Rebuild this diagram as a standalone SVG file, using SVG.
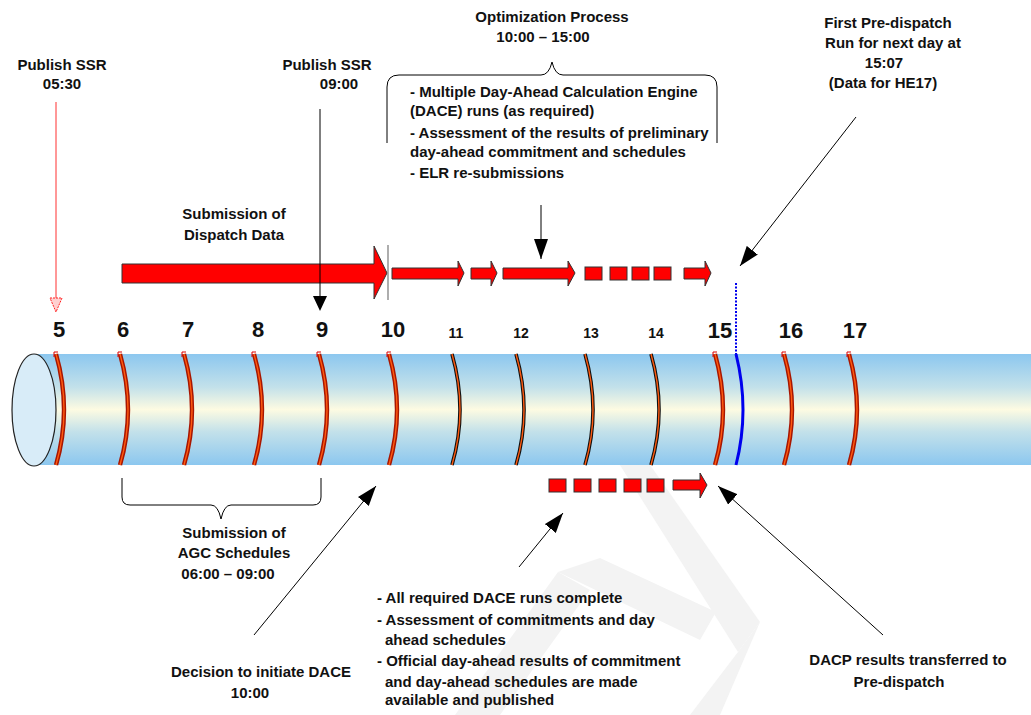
<svg xmlns="http://www.w3.org/2000/svg" width="1031" height="715" viewBox="0 0 1031 715">
<defs>
<linearGradient id="tube" x1="0" y1="0" x2="0" y2="1">
<stop offset="0" stop-color="#8cc7ef"/>
<stop offset="0.3" stop-color="#c3e1ea"/>
<stop offset="0.5" stop-color="#fdfbe2"/>
<stop offset="0.7" stop-color="#c3e1ea"/>
<stop offset="1" stop-color="#8cc7ef"/>
</linearGradient>
<marker id="ah" viewBox="0 0 20 14" refX="20" refY="7" markerWidth="20" markerHeight="14" markerUnits="userSpaceOnUse" orient="auto">
<path d="M0,0 L20,7 L0,14 Z" fill="#000"/>
</marker>
</defs>
<style>
text{font-family:"Liberation Sans",Arial,sans-serif;font-weight:bold;fill:#111;}
.t{font-size:15px;}
.c{text-anchor:middle;}
.big{font-size:22px;text-anchor:middle;}
.sm{font-size:14px;text-anchor:middle;}
.ra{fill:#ff0000;stroke:#333;stroke-width:1;}
.ln{stroke:#000;stroke-width:1;fill:none;}
.ro{fill:none;stroke:#a81600;stroke-width:4.4;}
.ri{fill:none;stroke:#ff5a10;stroke-width:1.4;}
.rb{fill:none;stroke:#111;stroke-width:3.6;}
.tick{fill:none;stroke:#d00;stroke-width:1;}
.wm{fill:#f3f3f3;}
</style>

<g id="watermark">
<polygon class="wm" points="618,462 648,462 760,622 738,652"/>
<polygon class="wm" points="558,572 600,558 716,612 700,640"/>
<polygon class="wm" points="558,572 590,590 500,715 455,715"/>
<polygon class="wm" points="738,652 760,622 720,715 690,715"/>
</g>

<g id="tube-body">
<rect x="34" y="354" width="997" height="111" fill="url(#tube)"/>
<ellipse cx="34" cy="410" rx="22" ry="56" fill="#d8ecf8" stroke="#222" stroke-width="1.2"/>
</g>

<g id="rings">
<g id="ring-5"><path class="ro" d="M56,354 Q72,410 56,465"/><path class="ri" d="M56,354 Q72,410 56,465"/><path class="tick" d="M54,357 L54,352 L58,352"/></g>
<g id="ring-6"><path class="ro" d="M120,354 Q136,410 120,465"/><path class="ri" d="M120,354 Q136,410 120,465"/><path class="tick" d="M118,357 L118,352 L122,352"/></g>
<g id="ring-7"><path class="ro" d="M184,354 Q200,410 184,465"/><path class="ri" d="M184,354 Q200,410 184,465"/><path class="tick" d="M182,357 L182,352 L186,352"/></g>
<g id="ring-8"><path class="ro" d="M254,354 Q270,410 254,465"/><path class="ri" d="M254,354 Q270,410 254,465"/><path class="tick" d="M252,357 L252,352 L256,352"/></g>
<g id="ring-9"><path class="ro" d="M319,354 Q335,410 319,465"/><path class="ri" d="M319,354 Q335,410 319,465"/><path class="tick" d="M317,357 L317,352 L321,352"/></g>
<g id="ring-10"><path class="ro" d="M389,354 Q405,410 389,465"/><path class="ri" d="M389,354 Q405,410 389,465"/><path class="tick" d="M387,357 L387,352 L391,352"/></g>
<g id="ring-11"><path class="rb" d="M452,354 Q468,410 452,465"/><path class="ri" d="M452,354 Q468,410 452,465"/></g>
<g id="ring-12"><path class="rb" d="M516,354 Q532,410 516,465"/><path class="ri" d="M516,354 Q532,410 516,465"/></g>
<g id="ring-13"><path class="rb" d="M585,354 Q601,410 585,465"/><path class="ri" d="M585,354 Q601,410 585,465"/></g>
<g id="ring-14"><path class="rb" d="M651,354 Q667,410 651,465"/><path class="ri" d="M651,354 Q667,410 651,465"/></g>
<g id="ring-15"><path class="ro" d="M715,354 Q731,410 715,465"/><path class="ri" d="M715,354 Q731,410 715,465"/><path class="tick" d="M713,357 L713,352 L717,352"/></g>
<g id="ring-blue"><path d="M736,283 L736,354" stroke="#0000ee" stroke-width="2" stroke-dasharray="2,1.5" fill="none"/><path d="M736,354 Q750,410 736,465" stroke="#0000ee" stroke-width="3" fill="none"/></g>
<g id="ring-16"><path class="ro" d="M784,354 Q800,410 784,465"/><path class="ri" d="M784,354 Q800,410 784,465"/><path class="tick" d="M782,357 L782,352 L786,352"/></g>
<g id="ring-17"><path class="ro" d="M849,354 Q865,410 849,465"/><path class="ri" d="M849,354 Q865,410 849,465"/><path class="tick" d="M847,357 L847,352 L851,352"/></g>
</g>

<g id="hour-labels">
<text class="big" x="59" y="337">5</text>
<text class="big" x="123" y="337">6</text>
<text class="big" x="188" y="337">7</text>
<text class="big" x="258" y="337">8</text>
<text class="big" x="322" y="337">9</text>
<text class="big" x="393" y="337">10</text>
<text class="sm" x="456" y="338">11</text>
<text class="sm" x="521" y="338">12</text>
<text class="sm" x="591" y="338">13</text>
<text class="sm" x="656" y="338">14</text>
<text class="big" x="720" y="338">15</text>
<text class="big" x="791" y="338">16</text>
<text class="big" x="855" y="338">17</text>
</g>

<g id="publish-ssr-0530">
<text class="t c" x="62" y="70">Publish SSR</text>
<text class="t c" x="62" y="89">05:30</text>
</g>

<g id="publish-ssr-0900">
<text class="t c" x="327" y="70">Publish SSR</text>
<text class="t c" x="339" y="89">09:00</text>
</g>

<g id="optimization">
<text class="t c" x="552" y="22">Optimization Process</text>
<text class="t c" x="543" y="42">10:00 – 15:00</text>
<path class="ln" d="M387,143 L387,87 Q387,75 399,75 L541,75 Q549,75 552,62 Q555,75 563,75 L705,75 Q717,75 717,87 L717,143"/>
<text class="t" x="410" y="97">- Multiple Day-Ahead Calculation Engine</text>
<text class="t" x="410" y="116">(DACE) runs (as required)</text>
<text class="t" x="410" y="138">- Assessment of the results of preliminary</text>
<text class="t" x="410" y="157">day-ahead commitment and schedules</text>
<text class="t" x="410" y="178">- ELR re-submissions</text>
</g>

<g id="first-predispatch">
<text class="t c" x="888" y="28">First Pre-dispatch</text>
<text class="t c" x="893" y="48">Run for next day at</text>
<text class="t c" x="884" y="68">15:07</text>
<text class="t c" x="883" y="88">(Data for HE17)</text>
</g>

<g id="dispatch-data">
<text class="t c" x="234" y="219">Submission of</text>
<text class="t c" x="234" y="240">Dispatch Data</text>
<polygon class="ra" points="122,264 374,264 374,246 387,273 374,299 374,283 122,283"/>
<line x1="388" y1="245" x2="388" y2="300" stroke="#777" stroke-width="1.2"/>
</g>

<g id="optimization-arrows">
<polygon class="ra" points="392,268 458,268 458,261 464,273 458,286 458,279 392,279"/>
<polygon class="ra" points="471,268 491,268 491,261 497,273 491,286 491,279 471,279"/>
<polygon class="ra" points="503,268 568,268 568,261 575,273 568,286 568,279 503,279"/>
<rect class="ra" x="585" y="267" width="17" height="13"/>
<rect class="ra" x="610" y="267" width="17" height="13"/>
<rect class="ra" x="632" y="267" width="17" height="13"/>
<rect class="ra" x="654" y="267" width="17" height="13"/>
<polygon class="ra" points="684,268 705,268 705,261 711,273 705,286 705,279 684,279"/>
</g>

<g id="agc-schedules">
<path class="ln" d="M122,478 L122,497 Q122,505 130,505 L211,505 Q218,505 221,519 Q224,505 231,505 L313,505 Q321,505 321,497 L321,478"/>
<text class="t c" x="234" y="538">Submission of</text>
<text class="t c" x="234" y="558">AGC Schedules</text>
<text class="t c" x="228" y="579">06:00 – 09:00</text>
</g>

<g id="decision-dace">
<text class="t c" x="261" y="677">Decision to initiate DACE</text>
<text class="t c" x="250" y="698">10:00</text>
</g>

<g id="dace-complete">
<text class="t" x="377" y="603">- All required DACE runs complete</text>
<text class="t" x="377" y="625">- Assessment of commitments and day</text>
<text class="t" x="385" y="645">ahead schedules</text>
<text class="t" x="377" y="666">- Official day-ahead results of commitment</text>
<text class="t" x="385" y="687">and day-ahead schedules are made</text>
<text class="t" x="385" y="705">available and published</text>
</g>

<g id="results-arrows">
<rect class="ra" x="549" y="479" width="17" height="13"/>
<rect class="ra" x="574" y="479" width="17" height="13"/>
<rect class="ra" x="599" y="479" width="17" height="13"/>
<rect class="ra" x="624" y="479" width="17" height="13"/>
<rect class="ra" x="647" y="479" width="17" height="13"/>
<polygon class="ra" points="673,480 700,480 700,473 707,485 700,498 700,490 673,490"/>
</g>

<g id="dacp-transfer">
<text class="t c" x="908" y="665">DACP results transferred to</text>
<text class="t c" x="899" y="687">Pre-dispatch</text>
</g>

<g id="connectors">
<line x1="56" y1="102" x2="56" y2="298" stroke="#ff3030" stroke-width="1"/>
<polygon points="50,298 62,298 56,312" fill="#ffd0d0" stroke="#ff2020" stroke-width="1" stroke-dasharray="2,1"/>
<line x1="320" y1="109" x2="320" y2="296" stroke="#000" stroke-width="1"/>
<polygon points="313,296 327,296 320,311" fill="#000"/>
<line class="ln" x1="541" y1="205" x2="541" y2="259" marker-end="url(#ah)"/>
<line class="ln" x1="856" y1="117" x2="740" y2="266" marker-end="url(#ah)"/>
<line class="ln" x1="254" y1="635" x2="376" y2="486" marker-end="url(#ah)"/>
<line class="ln" x1="519" y1="567" x2="563" y2="513" marker-end="url(#ah)"/>
<line class="ln" x1="883" y1="635" x2="718" y2="486" marker-end="url(#ah)"/>
</g>
</svg>
